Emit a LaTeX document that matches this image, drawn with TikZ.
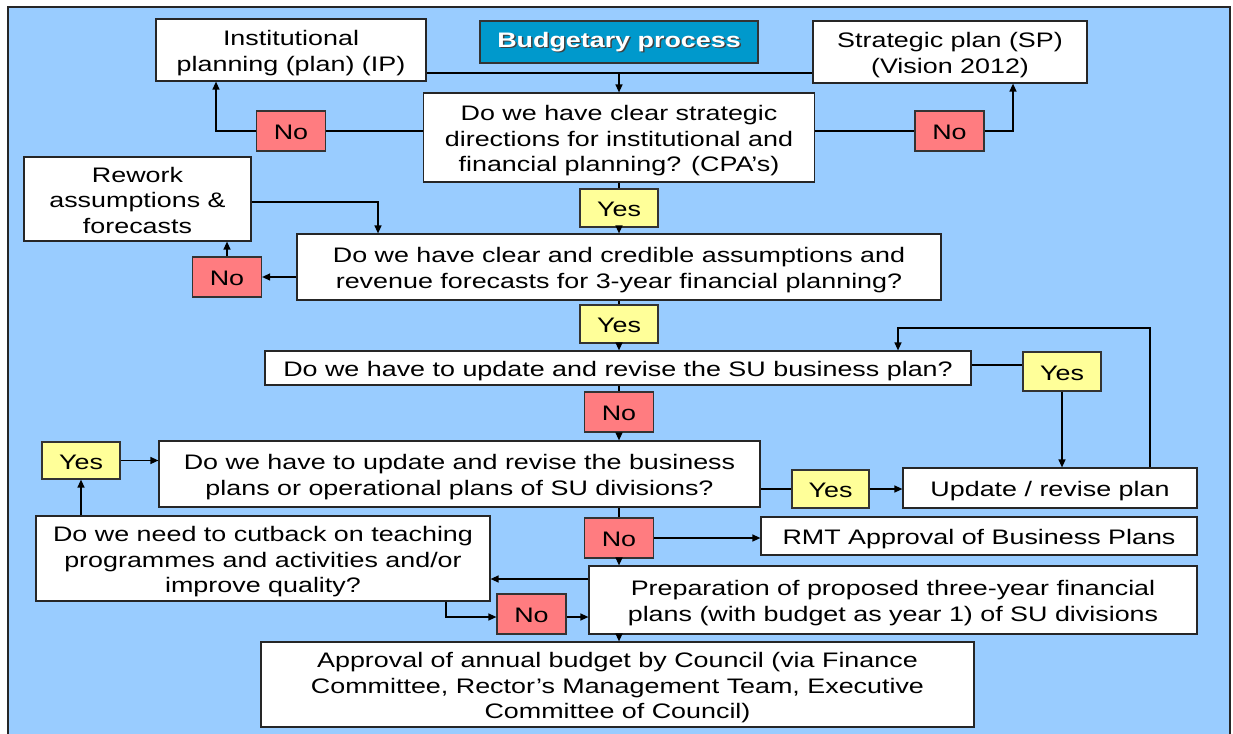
\documentclass[tikz,border=0pt]{standalone}
\usepackage{fontspec}
\setmainfont{Liberation Sans}[FakeStretch=1.28]
\usetikzlibrary{arrows.meta}
\definecolor{panel}{HTML}{99CCFF}
\definecolor{yesfill}{HTML}{FFFF99}
\definecolor{nofill}{HTML}{FF7C80}
\definecolor{titlefill}{HTML}{0099CC}
\begin{document}
\begin{tikzpicture}[x=1pt,y=-1pt,
  every node/.style={inner sep=0pt,align=center,font=\fontsize{21}{25.5}\selectfont},
  % fixed ascent / descent per text block, like a slide text box
  txt/.style={text height=21.5pt,text depth=4.5pt},
  lines2/.style={text height=47pt},
  lines3/.style={text height=72.5pt},
  box/.style={txt,draw=black!85,line width=1.2pt,fill=white,minimum width=#1},
  yesbox/.style={txt,draw=black!80,line width=1.2pt,fill=yesfill,minimum width=78pt,minimum height=38pt},
  nobox/.style={txt,draw=black!80,line width=1.2pt,fill=nofill,minimum width=69pt,minimum height=40pt},
  link/.style={line width=1.3pt,black},
  arr/.style={link,-{Triangle[length=8pt,width=7pt]}}]
\useasboundingbox (0,0) rectangle (1233,733);
\clip (0,0) rectangle (1233,733);
\fill[white] (0,0) rectangle (1233,733);
% panel
\draw[fill=panel,draw=black!85,line width=1.6pt] (8,7) rectangle (1230,745);

% title
\node[draw=black!80,line width=1.2pt,fill=titlefill,minimum width=278pt,minimum height=42pt] (title) at (619,42) {};
\node[text=black!75,font=\fontsize{21}{25.5}\selectfont\bfseries] (titleshadow) at (620.5,43.5) {Budgetary process};
\node[text=white,font=\fontsize{21}{25.5}\selectfont\bfseries] (titletext) at (619,42) {Budgetary process};

% plans at the top
\node[box=270pt,lines2,minimum height=62pt] (ip) at (291,50) {Institutional\\planning (plan) (IP)};
\node[box=274pt,lines2,minimum height=62pt] (sp) at (950,52) {Strategic plan (SP)\\(Vision 2012)};

% decisions down the middle
\node[box=391pt,lines3,minimum height=89pt] (d1) at (619,137.5) {Do we have clear strategic\\directions for institutional and\\financial planning? (CPA’s)};
\node[nobox] (no1) at (291,131) {No};
\node[nobox] (no2) at (949.5,131) {No};
\node[yesbox] (yes1) at (619,208) {Yes};
\node[box=227pt,lines3,minimum height=84pt] (rework) at (137.5,199) {Rework\\assumptions \&\\forecasts};
\node[box=644pt,lines2,minimum height=66pt] (d2) at (619,267) {Do we have clear and credible assumptions and\\revenue forecasts for 3-year financial planning?};
\node[nobox] (no3) at (227,277) {No};
\node[yesbox] (yes2) at (619,324) {Yes};
\node[box=706pt,minimum height=34pt] (d3) at (618,368) {Do we have to update and revise the SU business plan?};
\node[yesbox,minimum height=39pt] (yes3) at (1062,371.5) {Yes};
\node[nobox] (no4) at (619,412) {No};
\node[box=601pt,lines2,minimum height=66pt] (d4) at (459.5,474) {Do we have to update and revise the business\\plans or operational plans of SU divisions?};
\node[yesbox,minimum height=37pt] (yesl) at (81,460.5) {Yes};
\node[yesbox,minimum width=77pt] (yes4) at (830.5,489) {Yes};
\node[box=294pt,minimum height=40pt] (update) at (1050,488) {Update / revise plan};
\node[nobox] (no5) at (619,538) {No};
\node[box=436pt,minimum height=38pt] (rmt) at (979,536) {RMT Approval of Business Plans};
\node[box=454pt,lines3,minimum height=85pt] (cut) at (263,558.5) {Do we need to cutback on teaching\\programmes and activities and/or\\improve quality?};
\node[box=608pt,lines2,minimum height=68pt] (prep) at (893,600) {Preparation of proposed three-year financial\\plans (with budget as year 1) of SU divisions};
\node[nobox] (no6) at (531.5,614) {No};
\node[box=713pt,lines3,minimum height=85pt] (appr) at (617.5,684.5) {Approval of annual budget by Council (via Finance\\Committee, Rector’s Management Team, Executive\\Committee of Council)};

% bend points
\coordinate (j1) at (619,73);
\coordinate (a1) at (216,131);
\coordinate (a2) at (1013,131);
\coordinate (a3) at (378,202);
\coordinate (a4) at (1000,365);
\coordinate (a5) at (1150,328);
\coordinate (a6) at (898,328);
\coordinate (a7) at (560,579);
\coordinate (a8) at (446,617);

% top: plans feed the first decision
\draw[link] (ip.east |- j1) -- (sp.west |- j1);
\draw[arr] (j1) -- (d1.north -| j1);
\draw[link] (d1.west |- no1) -- (no1.east);
\draw[arr] (no1.west) -- (a1) -- (a1 |- ip.south);
\draw[link] (d1.east |- no2) -- (no2.west);
\draw[arr] (no2.east) -- (a2) -- (a2 |- sp.south);
\draw[link] (d1.south -| j1) -- (yes1.north -| j1);
\draw[arr] (yes1.south -| j1) -- (d2.north -| j1);

% assumptions loop
\draw[arr] (rework.east |- a3) -- (a3) -- (a3 |- d2.north);
\draw[arr] (d2.west |- no3) -- (no3.east);
\draw[arr] (no3.north) -- (no3.north |- rework.south);
\draw[link] (d2.south -| j1) -- (yes2.north -| j1);
\draw[arr] (yes2.south -| j1) -- (d3.north -| j1);

% business plan revision
\draw[link] (d3.east |- a4) -- (yes3.west |- a4);
\draw[arr] (yes3.south) -- (yes3.south |- update.north);
\draw[arr] (a5 |- update.north) -- (a5) -- (a6) -- (a6 |- d3.north);
\draw[link] (d3.south -| j1) -- (no4.north -| j1);
\draw[arr] (no4.south -| j1) -- (d4.north -| j1);
\draw[arr] (yesl.east) -- (d4.west |- yesl.east);
\draw[arr] (cut.north -| yesl) -- (yesl.south);
\draw[link] (d4.east |- yes4) -- (yes4.west);
\draw[arr] (yes4.east) -- (update.west |- yes4);

% approval path
\draw[link] (d4.south -| j1) -- (no5.north -| j1);
\draw[arr] (no5.south -| j1) -- (prep.north -| j1);
\draw[arr] (no5.east) -- (rmt.west |- no5.east);
\draw[arr] (prep.west |- a7) -- (cut.east |- a7);
\draw[arr] (cut.south -| a8) -- (a8) -- (no6.west |- a8);
\draw[arr] (no6.east |- a8) -- (prep.west |- a8);
\draw[arr] (prep.south -| j1) -- (appr.north -| j1);
\end{tikzpicture}
\end{document}
